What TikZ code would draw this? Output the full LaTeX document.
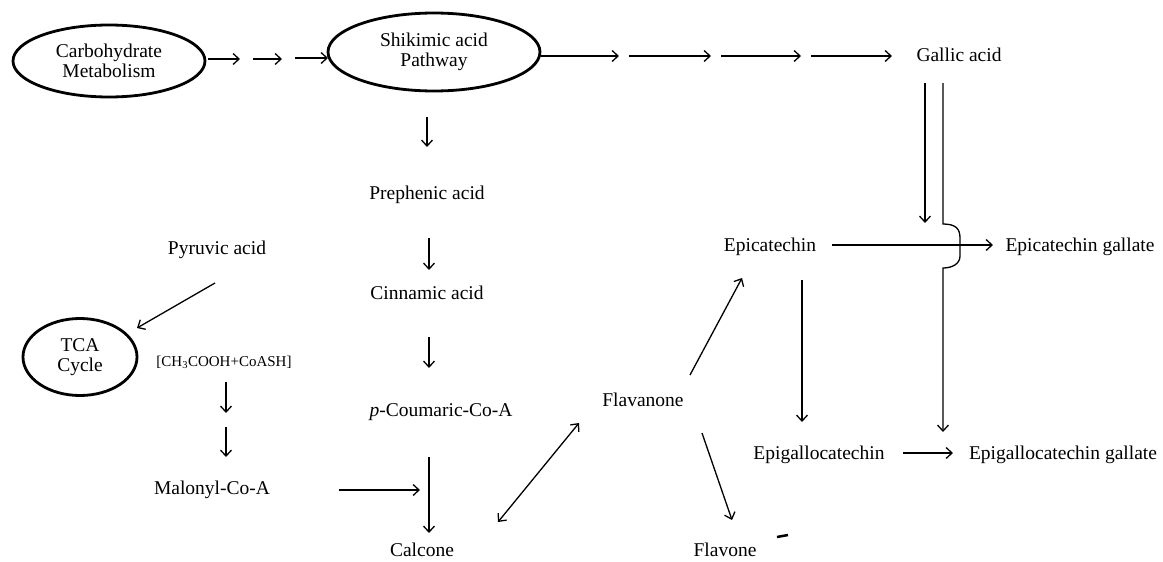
\documentclass[tikz,border=0pt]{standalone}
\usepackage{fontspec}
\setmainfont{Liberation Serif}
\usetikzlibrary{arrows.meta,shapes.geometric}
\begin{document}
\begin{tikzpicture}[x=1pt,y=-1pt,
  arr/.style={line width=1.3pt,-{Straight Barb[length=6pt,width=11pt]}},
  darr/.style={line width=1.3pt,{Straight Barb[length=6pt,width=11pt]}-{Straight Barb[length=6pt,width=11pt]}},
  oval/.style={ellipse,draw,line width=2.8pt,inner sep=0pt,align=center,font=\fontsize{19.5}{20}\selectfont},
  lbl/.style={inner sep=0pt,font=\fontsize{19.5}{20}\selectfont},
  small/.style={inner sep=0pt,font=\fontsize{15}{16}\selectfont}]
\useasboundingbox (0,0) rectangle (1163,562);

% nodes
\node[oval,minimum width=192pt,minimum height=72pt] (carb) at (109,61) {Carbohydrate\\Metabolism};
\node[oval,minimum width=212pt,minimum height=78pt] (shik) at (434,52) {Shikimic acid\\Pathway};
\node[oval,minimum width=114pt,minimum height=77pt] (tca) at (80,357) {TCA\\Cycle};
\node[lbl] (gal) at (959,55) {Gallic acid};
\node[lbl] (prep) at (427,195) {Prephenic acid};
\node[lbl] (cinn) at (427,293) {Cinnamic acid};
\node[lbl] (coum) at (441,412) {\textit{p}-Coumaric-Co-A};
\node[lbl] (calc) at (422,550) {Calcone};
\node[lbl] (pyr) at (217,250) {Pyruvic acid};
\node[small] (acet) at (224,362) {[CH\textsubscript{3}COOH+CoASH]};
\node[lbl] (mal) at (212,490) {Malonyl-Co-A};
\node[lbl] (flav) at (643,400) {Flavanone};
\node[lbl] (flavo) at (725,550) {Flavone};
\node[lbl] (epi) at (770,247) {Epicatechin};
\node[lbl] (epig) at (1080,247) {Epicatechin gallate};
\node[lbl] (egc) at (819,455) {Epigallocatechin};
\node[lbl] (egcg) at (1063,455) {Epigallocatechin gallate};

% coordinates for arrow ends
\coordinate (t1) at (208,59); \coordinate (t2) at (240,59);
\coordinate (t3) at (253,59); \coordinate (t4) at (282,59);
\coordinate (t5) at (295,58); \coordinate (t6) at (328,58);
\coordinate (r1) at (541,56); \coordinate (r2) at (619,56);
\coordinate (r3) at (629,56); \coordinate (r4) at (711,56);
\coordinate (r5) at (721,56); \coordinate (r6) at (801,56);
\coordinate (r7) at (811,56); \coordinate (r8) at (892,56);
\coordinate (g1) at (925,83); \coordinate (g2) at (925,223);
\coordinate (h1) at (943,83); \coordinate (h2) at (943,224);
\coordinate (h3) at (943,268); \coordinate (h4) at (943,432);

% top row
\draw[arr] (t1) -- (t2);
\draw[arr] (t3) -- (t4);
\draw[arr] (t5) -- (t6);
\draw[arr] (r1) -- (r2);
\draw[arr] (r3) -- (r4);
\draw[arr] (r5) -- (r6);
\draw[arr] (r7) -- (r8);

% gallic acid lines
\draw[arr] (g1) -- (g2);
\draw[arr] (h1) -- (h2) .. controls (956,224) and (960,229) .. (960,238) -- (960,256) .. controls (960,264) and (952,268) .. (h3) -- (h4);

% central column
\draw[arr] (427,117) -- (427,147);
\draw[arr] (429,238) -- (429,270);
\draw[arr] (429,337) -- (429,368);
\draw[arr] (429,457) -- (429,533);
\draw[arr] (339,490) -- (420,490);

% left column
\draw[arr] (215,283) -- (137,328);
\draw[arr] (226,382) -- (226,413);
\draw[arr] (226,427) -- (226,457);

% flavonoids
\draw[darr] (498,522) -- (579,423);
\draw[arr] (690,375) -- (742,278);
\draw[arr] (702,433) -- (732,520);
\draw[arr] (832,245) -- (993,245);
\draw[arr] (802,280) -- (802,422);
\draw[arr] (903,453) -- (953,453);

% stray mark
\draw[line width=2.5pt] (777,537) -- (788,535);
\end{tikzpicture}
\end{document}
